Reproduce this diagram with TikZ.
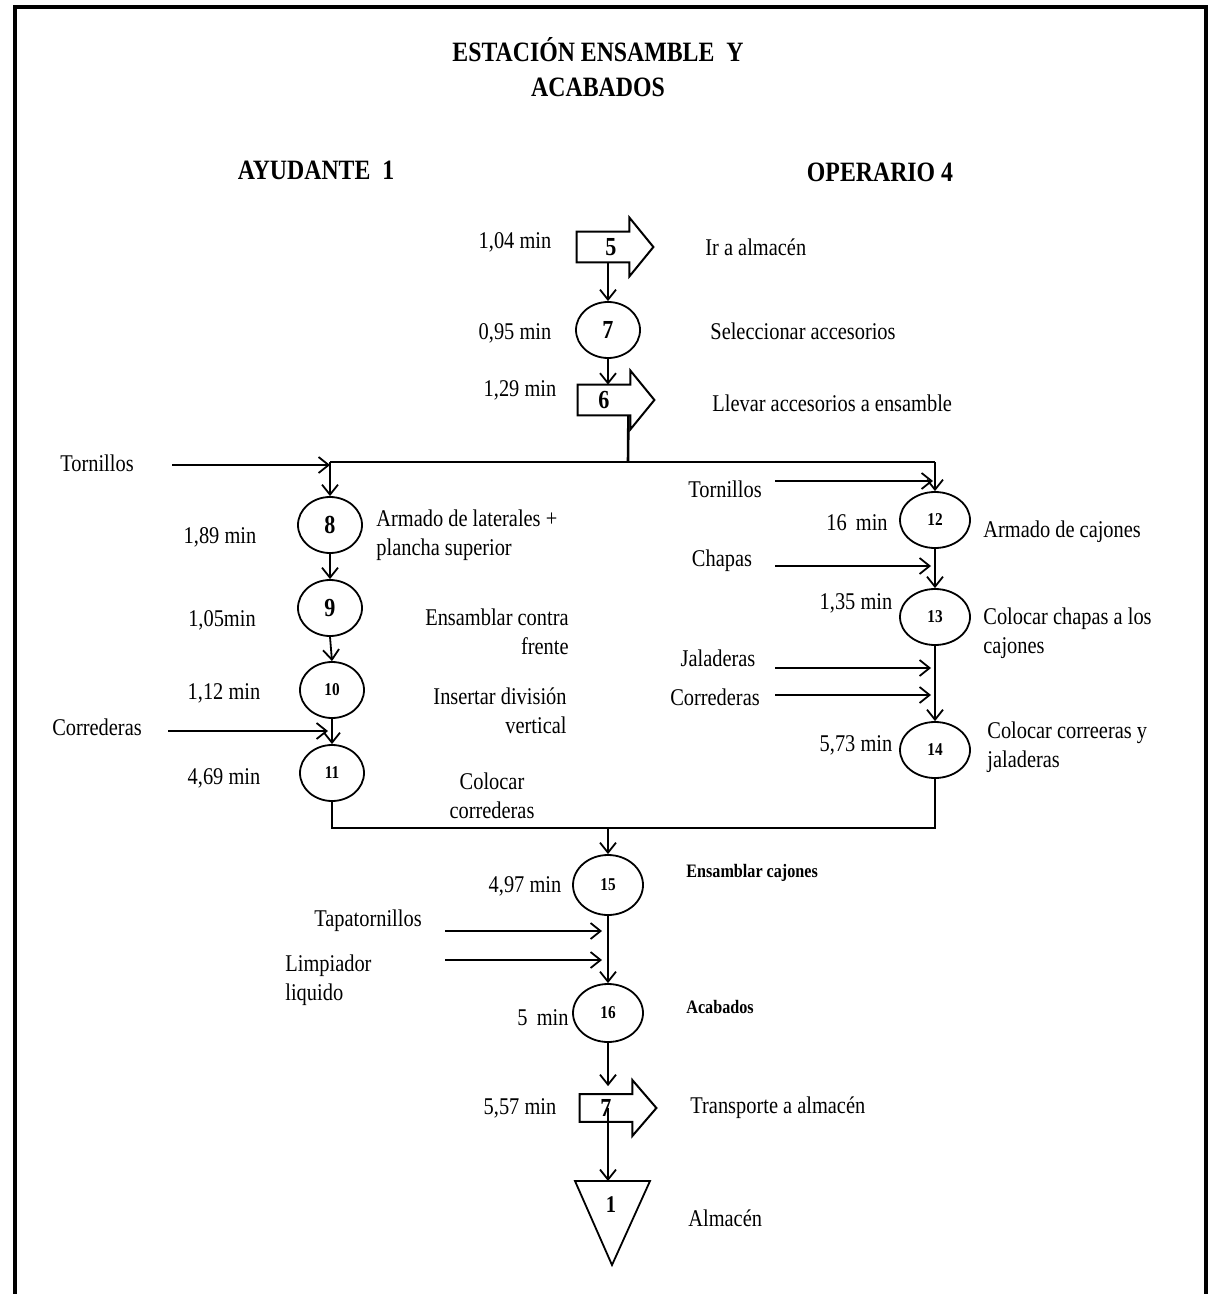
\documentclass[tikz,border=0pt]{standalone}
\usepackage{fontspec}
\setmainfont{Liberation Serif}[FakeStretch=0.85]
\usetikzlibrary{shapes.geometric,arrows.meta,calc}
\begin{document}
\begin{tikzpicture}[x=0.5pt,y=-0.5pt,
  op/.style={ellipse, draw, line width=0.9pt, minimum width=32pt, minimum height=28pt, inner sep=0pt, font=\bfseries\fontsize{13}{13}\selectfont},
  opS/.style={op, minimum width=35pt, font=\bfseries\fontsize{9}{9}\selectfont},
  shaft/.style={rectangle, minimum width=26pt, minimum height=15pt, inner sep=0pt, font=\bfseries\fontsize{13}{13}\selectfont},
  lbl/.style={font=\fontsize{12}{14.5}\selectfont, inner sep=0pt},
  small/.style={font=\bfseries\fontsize{9.5}{11}\selectfont, inner sep=0pt},
  head/.style={font=\bfseries\fontsize{14}{17.5}\selectfont, inner sep=0pt, align=center},
  line/.style={line width=0.9pt},
  bus/.style={line width=1.3pt},
  flow/.style={line width=0.9pt, -{Straight Barb[length=5pt,width=8pt]}},
  blk/.style={line width=1pt, line join=miter}
]
\useasboundingbox (0,0) rectangle (1208,1294);
% frame
\draw[line width=1.6pt] (15,1294) -- (15,7) -- (1206,7) -- (1206,1294);

% headings
\node[head] (title) at (598,67) {ESTACIÓN ENSAMBLE \ Y\\ACABADOS};
\node[head] (ayu) at (316,170) {AYUDANTE \ 1};
\node[head] (ope) at (880,172) {OPERARIO 4};

% top chain
\node[shaft] (t5) at (603,247) {\hspace*{8pt}5};
\node[op] (o7) at (608,330) {7};
\node[shaft] (t6) at (604,400) {6};

\newcommand{\blkarrow}[1]{\draw[blk] (#1.north east) -- (#1.north west) -- (#1.south west) -- (#1.south east) -- ([yshift=-7pt]#1.south east) -- ([xshift=12pt]#1.east) -- ([yshift=7pt]#1.north east) -- cycle;}
\blkarrow{t5}
\blkarrow{t6}

\node[lbl] (l5) at (515,242) {1,04 min};
\node[lbl,anchor=west] (d5) at (705,247) {Ir a almacén};
\node[lbl] (l7) at (515,333) {0,95 min};
\node[lbl,anchor=west] (d7) at (710,331) {Seleccionar accesorios};
\node[lbl] (l6) at (520,390) {1,29 min};
\node[lbl,anchor=west] (d6) at (712,403) {Llevar accesorios a ensamble};

\draw[flow] (t5.south -| o7.north) -- (o7.north);
\draw[flow] (o7.south) -- (o7.south |- t6.north);

% bus
\coordinate (busA) at (628,462);
\coordinate (busL) at (330,462);
\coordinate (busR) at (935,462);
\draw[bus] ([xshift=-1pt]t6.south east) -- (busA);
\draw[bus] (busL) -- (busR);

% left column
\node[op] (o8) at (330,525) {8};
\node[op] (o9) at (330,608) {9};
\node[opS, minimum width=32pt] (o10) at (332,690) {10};
\node[opS, minimum width=32pt] (o11) at (332,773) {11};

\draw[flow] (busL) -- (o8.north);
\draw[flow] (o8.south) -- (o9.north);
\draw[flow] (o9.south) -- (o10.north);
\draw[flow] (o10.south) -- (o11.north);

\node[lbl] (tornL) at (97,463) {Tornillos};
\coordinate (tlS) at (172,465);
\draw[flow] (tlS) -- (busL |- tlS);
\node[lbl] (corrL) at (97,727) {Correderas};
\coordinate (clS) at (168,731);
\draw[flow] (clS) -- ($(clS -| o11.north)+(-2pt,0)$);

\node[lbl] (l8) at (220,537) {1,89 min};
\node[lbl,anchor=west,align=left] (d8) at (376,535) {Armado de laterales +\\plancha superior};
\node[lbl] (l9) at (222,620) {1,05min};
\node[lbl,anchor=east,align=right] (d9) at (569,632) {Ensamblar contra\\frente};
\node[lbl] (l10) at (224,693) {1,12 min};
\node[lbl,anchor=east,align=right] (d10) at (567,711) {Insertar división\\vertical};
\node[lbl] (l11) at (224,778) {4,69 min};
\node[lbl,align=center] (d11) at (492,796) {Colocar\\correderas};

% right column
\node[opS] (o12) at (935,520) {12};
\node[opS] (o13) at (935,617) {13};
\node[opS] (o14) at (935,750) {14};

\draw[flow] (busR) -- (o12.north);
\draw[flow] (o12.south) -- (o13.north);
\draw[flow] (o13.south) -- (o14.north);

\coordinate (xs) at (775,0);
\node[lbl] (tornR) at (725,489) {Tornillos};
\draw[flow] (xs |- 0,481) -- ($(o12.north |- 0,481)+(-1pt,0)$);
\node[lbl] (chap) at (722,561) {Chapas};
\draw[flow] (xs |- 0,566) -- ($(o12.south |- 0,566)+(-2pt,0)$);
\node[lbl] (jal) at (718,658) {Jaladeras};
\draw[flow] (xs |- 0,668) -- ($(o13.south |- 0,668)+(-2pt,0)$);
\node[lbl] (corrR) at (715,697) {Correderas};
\draw[flow] (xs |- 0,695) -- ($(o13.south |- 0,695)+(-2pt,0)$);

\node[lbl] (l12) at (857,523) {16 \,min};
\node[lbl,anchor=west] (d12) at (983,532) {Armado de cajones};
\node[lbl] (l13) at (856,603) {1,35 min};
\node[lbl,anchor=west,align=left] (d13) at (983,633) {Colocar chapas a los\\cajones};
\node[lbl] (l14) at (856,745) {5,73 min};
\node[lbl,anchor=west,align=left] (d14) at (987,747) {Colocar correeras y\\jaladeras};

% lower bus
\coordinate (busBM) at (608,828);
\coordinate (busBR) at (935,828);
\draw[bus] (o11.south) |- (busBR) -- (o14.south);

% bottom chain
\node[opS, minimum height=30pt] (o15) at (608,885) {15};
\node[opS, minimum height=29pt] (o16) at (608,1013) {16};
\node[shaft, minimum height=13.5pt] (t7) at (606,1108) {7};
\blkarrow{t7}

\draw[flow] (busBM) -- (o15.north);
\draw[flow] (o15.south) -- (o16.north);
\draw[flow] (o16.south) -- ($(o16.south |- t7.north)+(0,4pt)$);

\node[lbl] (alm) at (611,1205) {\bfseries 1};
\coordinate (almtop) at (608,1181);
\draw[line width=0.9pt] (575,1181) -- (650,1181) -- (612,1265) -- cycle;
\draw[flow] (t7.center -| almtop) -- (almtop);

\coordinate (xb) at (445,0);
\node[lbl] (tapa) at (368,921) {Tapatornillos};
\draw[flow] (xb |- 0,931) -- ($(o15.south |- 0,931)+(-3pt,0)$);
\node[lbl,anchor=west,align=left] (limp) at (285,980) {Limpiador\\liquido};
\draw[flow] (xb |- 0,960) -- ($(o15.south |- 0,960)+(-3pt,0)$);

\node[lbl] (l15) at (525,886) {4,97 min};
\node[small,anchor=west] (d15) at (686,873) {Ensamblar cajones};
\node[lbl] (l16) at (543,1018) {5 \,min};
\node[small,anchor=west] (d16) at (686,1007) {Acabados};
\node[lbl] (l7b) at (520,1108) {5,57 min};
\node[lbl,anchor=west] (d7b) at (690,1108) {Transporte a almacén};
\node[lbl,anchor=west] (dalm) at (688,1218) {Almacén};
\end{tikzpicture}
\end{document}
